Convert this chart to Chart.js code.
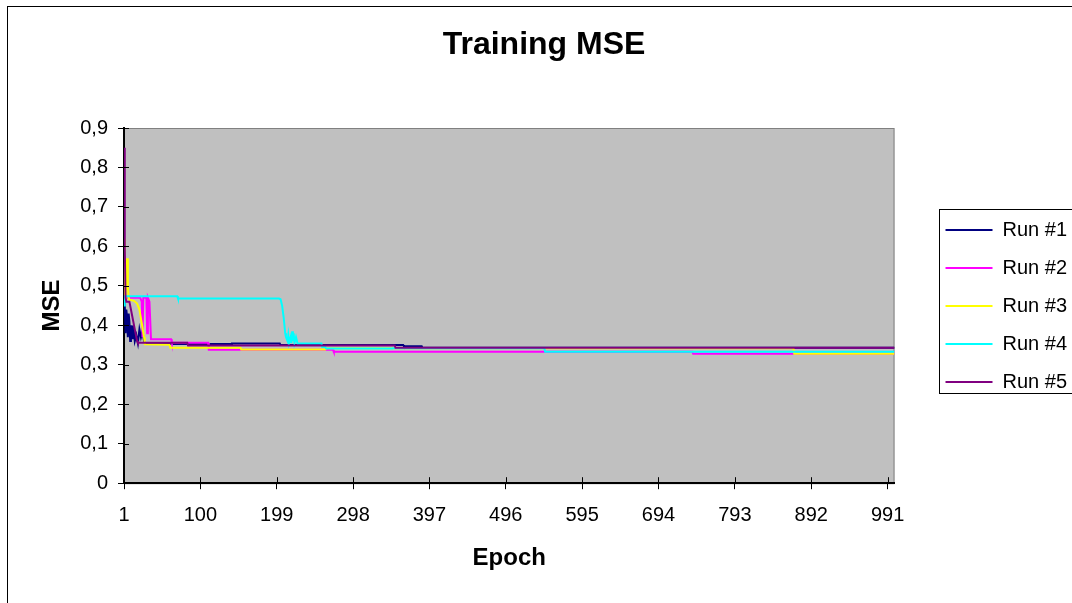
<!DOCTYPE html>
<html>
<head>
<meta charset="utf-8">
<script src="https://cdn.jsdelivr.net/npm/chart.js@4.4.1/dist/chart.umd.min.js"></script>
<style>
  html, body { margin: 0; padding: 0; background: #fff; overflow: hidden; }
  body { width: 1072px; height: 603px; position: relative; }
  #frame { position: absolute; left: 7px; top: 6px; width: 1100px; height: 700px; border: 1px solid #000; }
  #chart { position: absolute; left: 0; top: 0; }
</style>
</head>
<body>
<div id="frame"></div>
<canvas id="chart" width="1080" height="612"></canvas>
<script>
const runLabels = ['Run #1', 'Run #2', 'Run #3', 'Run #4', 'Run #5'];
const runColors = ['#000080', '#ff00ff', '#ffff00', '#00ffff', '#800080'];
const xTickLabels = [1, 100, 199, 298, 397, 496, 595, 694, 793, 892, 991];
const yTickLabels = ['0', '0,1', '0,2', '0,3', '0,4', '0,5', '0,6', '0,7', '0,8', '0,9'];

// breakpoints (epoch, MSE); segments between them are straight
const run1Epochs = [1, 2, 3, 4, 5, 6, 7, 8, 9, 10, 11, 12, 13, 15, 17, 19, 21, 23, 25, 27, 29, 140, 141, 203, 204, 363, 364, 387, 388, 1000];
const run1Mse = [0.47, 0.45, 0.38, 0.44, 0.42, 0.37, 0.43, 0.41, 0.36, 0.40, 0.39, 0.365, 0.40, 0.36, 0.375, 0.355, 0.39, 0.37, 0.385, 0.36, 0.353, 0.353, 0.354, 0.354, 0.350, 0.350, 0.347, 0.347, 0.343, 0.343];

const run2Epochs = [1, 2, 22, 24, 25, 26, 30, 31, 32, 34, 36, 62, 63, 110, 111, 272, 273, 738, 739, 1000];
const run2Mse = [0.49, 0.47, 0.47, 0.46, 0.37, 0.47, 0.47, 0.38, 0.47, 0.46, 0.365, 0.365, 0.356, 0.356, 0.338, 0.338, 0.333, 0.333, 0.328, 0.328];

const run3Epochs = [1, 2, 3, 4, 5, 6, 7, 8, 14, 18, 21, 27, 28, 60, 61, 152, 153, 262, 263, 869, 870, 1000];
const run3Mse = [0.62, 0.48, 0.46, 0.52, 0.57, 0.50, 0.47, 0.465, 0.462, 0.455, 0.44, 0.37, 0.352, 0.351, 0.343, 0.343, 0.339, 0.339, 0.342, 0.342, 0.328, 0.328];

const run4Epochs = [1, 2, 70, 71, 202, 204, 206, 208, 210, 211, 213, 214, 215, 217, 218, 219, 220, 221, 222, 224, 226, 257, 258, 262, 263, 349, 350, 546, 547, 1000];
const run4Mse = [0.45, 0.474, 0.474, 0.468, 0.468, 0.466, 0.45, 0.42, 0.38, 0.37, 0.36, 0.375, 0.355, 0.37, 0.355, 0.385, 0.36, 0.38, 0.355, 0.37, 0.354, 0.354, 0.345, 0.345, 0.341, 0.341, 0.342, 0.342, 0.333, 0.333];

const run5Epochs = [1, 2, 3, 4, 8, 10, 18, 19, 83, 84, 352, 353, 1000];
const run5Mse = [0.85, 0.60, 0.47, 0.46, 0.46, 0.44, 0.36, 0.356, 0.356, 0.349, 0.349, 0.343, 0.343];

const runEpochs = [run1Epochs, run2Epochs, run3Epochs, run4Epochs, run5Epochs];
const runMse = [run1Mse, run2Mse, run3Mse, run4Mse, run5Mse];

const PAD_LEFT = 44;
const PLOT_LEFT = 124;
const LEGEND_GAP = 51;

Chart.defaults.font.family = '"Liberation Sans", Arial, sans-serif';
Chart.defaults.color = '#000';

// grey plot area like the spreadsheet chart
const plotBackground = {
  id: 'plotBackground',
  beforeDraw(chart) {
    const { ctx, chartArea: a } = chart;
    ctx.save();
    ctx.fillStyle = '#c0c0c0';
    ctx.fillRect(a.left, a.top, a.width, a.height);
    ctx.strokeStyle = '#808080';
    ctx.lineWidth = 1;
    ctx.strokeRect(a.left + 0.5, a.top + 0.5, a.width - 1, a.height);
    ctx.restore();
  },
  // tick marks cross the axis lines a little, as in the original
  afterDraw(chart) {
    const { ctx, chartArea: a, scales } = chart;
    ctx.save();
    ctx.strokeStyle = '#000';
    ctx.lineWidth = 1;
    ctx.beginPath();
    scales.y.ticks.forEach(t => {
      const py = Math.round(scales.y.getPixelForValue(t.value)) + 0.5;
      ctx.moveTo(a.left, py);
      ctx.lineTo(a.left + 5, py);
    });
    scales.x.ticks.forEach(t => {
      const px = Math.round(scales.x.getPixelForValue(t.value)) + 0.5;
      ctx.moveTo(px, a.bottom);
      ctx.lineTo(px, a.bottom - 6);
    });
    ctx.stroke();
    ctx.restore();
  }
};

// move the legend away from the plot and put a frame round it
const legendFrame = {
  id: 'legendFrame',
  afterLayout(chart) {
    const legend = chart.legend;
    const shift = chart.chartArea.right + LEGEND_GAP - (legend.left + legend.options.labels.padding);
    legend.left += shift;
    legend.right += shift;
  },
  afterDraw(chart) {
    const boxes = chart.legend.legendHitBoxes;
    if (!boxes || !boxes.length) return;
    const first = boxes[0];
    const last = boxes[boxes.length - 1];
    const left = Math.round(first.left - 7);
    const top = Math.round(first.top + first.height / 2 - 21);
    const bottom = Math.round(last.top + last.height / 2 + 11);
    const ctx = chart.ctx;
    ctx.save();
    ctx.strokeStyle = '#000';
    ctx.lineWidth = 1;
    ctx.strokeRect(left + 0.5, top + 0.5, chart.width, bottom - top);
    ctx.restore();
  }
};

const datasets = runLabels.map((label, i) => ({
  label: label,
  data: runEpochs[i].map((e, j) => ({ x: e, y: runMse[i][j] })),
  borderColor: runColors[i],
  backgroundColor: runColors[i],
  borderWidth: 2,
  pointRadius: 0,
  tension: 0,
  order: runLabels.length - i
}));

new Chart(document.getElementById('chart'), {
  type: 'line',
  data: { datasets },
  options: {
    responsive: false,
    animation: false,
    events: [],
    layout: { padding: { left: PAD_LEFT, right: 36, top: 0, bottom: 0 } },
    plugins: {
      title: {
        display: true,
        text: 'Training MSE',
        color: '#000',
        font: { size: 32, weight: 'bold' },
        padding: { top: 26, bottom: 63.6 }
      },
      legend: {
        position: 'right',
        labels: {
          usePointStyle: true,
          pointStyle: 'line',
          pointStyleWidth: 47,
          padding: 18,
          color: '#000',
          font: { size: 20 },
          sort: (a, b) => a.datasetIndex - b.datasetIndex
        }
      },
      tooltip: { enabled: false }
    },
    scales: {
      x: {
        type: 'linear',
        min: 1,
        max: 1000,
        afterBuildTicks: scale => { scale.ticks = xTickLabels.map(v => ({ value: v })); },
        ticks: { autoSkip: false, maxRotation: 0, padding: 14, font: { size: 20 }, color: '#000', callback: v => String(v) },
        grid: { drawOnChartArea: false, color: '#000', tickLength: 6 },
        border: { color: '#000', width: 2 },
        title: { display: true, text: 'Epoch', color: '#000', font: { size: 24, weight: 'bold' }, padding: { top: 3, bottom: 39 } }
      },
      y: {
        min: 0,
        max: 0.9,
        afterFit: scale => { scale.width = PLOT_LEFT - PAD_LEFT; },
        ticks: { stepSize: 0.1, padding: 10, font: { size: 20 }, color: '#000', callback: (v, i) => yTickLabels[i] },
        grid: { drawOnChartArea: false, color: '#000', tickLength: 6 },
        border: { color: '#000', width: 2 },
        title: { display: true, text: 'MSE', color: '#000', font: { size: 24, weight: 'bold' }, padding: { top: -6, bottom: 0 } }
      }
    }
  },
  plugins: [plotBackground, legendFrame]
});
</script>
</body>
</html>
